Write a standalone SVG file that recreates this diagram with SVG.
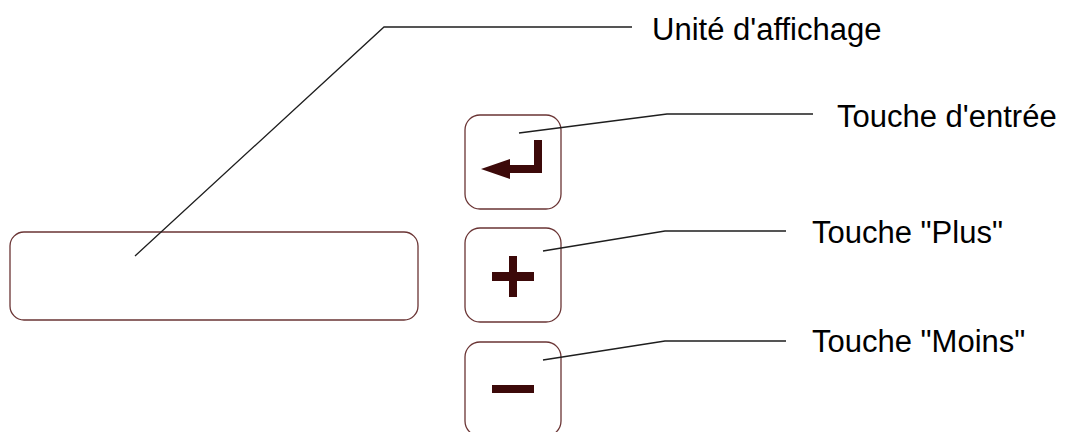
<svg xmlns="http://www.w3.org/2000/svg" width="1066" height="432" viewBox="0 0 1066 432">
  <style>
    .frame { fill: #ffffff; stroke: #6a3434; stroke-width: 1.3; }
    .glyph { fill: #3c0909; }
    .leader { fill: none; stroke: #1e1e1e; stroke-width: 1.3; stroke-linejoin: miter; }
    .label { font-family: "Liberation Sans", Arial, sans-serif; font-size: 31px; fill: #000000; }
  </style>
  <rect width="1066" height="432" fill="#ffffff"/>

  <!-- display unit -->
  <g id="display">
    <rect class="frame" x="10" y="232" width="408" height="88" rx="14" ry="14"/>
  </g>

  <!-- enter key -->
  <g id="key-enter">
    <rect class="frame" x="465" y="115" width="96" height="94" rx="15" ry="15"/>
    <polygon class="glyph" points="534,140 542,140 542,173 510,173 510,179 481,169 510,159 510,165 534,165"/>
  </g>

  <!-- plus key -->
  <g id="key-plus">
    <rect class="frame" x="465" y="228" width="96" height="94" rx="15" ry="15"/>
    <rect class="glyph" x="509" y="256" width="8" height="41"/>
    <rect class="glyph" x="492" y="272" width="42" height="9"/>
  </g>

  <!-- minus key -->
  <g id="key-minus">
    <rect class="frame" x="465" y="342" width="96" height="94" rx="15" ry="15"/>
    <rect class="glyph" x="492" y="385" width="42" height="8"/>
  </g>

  <!-- leader lines -->
  <g id="connectors">
    <polyline class="leader" points="135,256 384,27 632,27"/>
    <polyline class="leader" points="519,133 667,114 813,114"/>
    <polyline class="leader" points="543,251 665,231 786,231"/>
    <polyline class="leader" points="543,360 665,341 786,341"/>
  </g>

  <!-- labels -->
  <g id="labels">
    <text class="label" x="652" y="40">Unité d'affichage</text>
    <text class="label" x="837" y="127">Touche d'entrée</text>
    <text class="label" x="812" y="243">Touche "Plus"</text>
    <text class="label" x="812" y="352">Touche "Moins"</text>
  </g>
</svg>
